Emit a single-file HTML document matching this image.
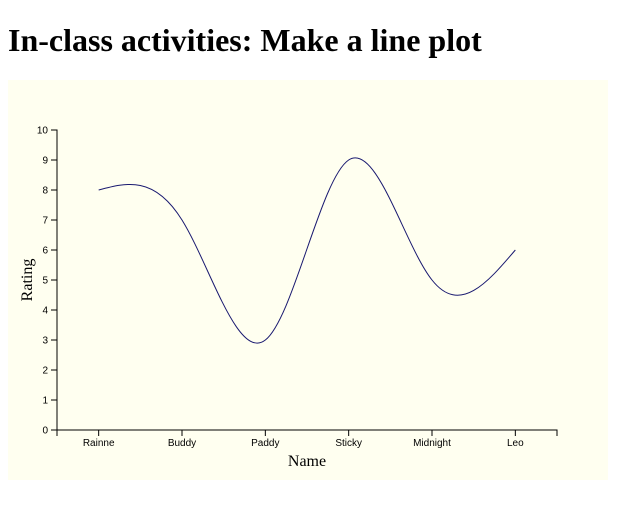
<!DOCTYPE html>
<html><head><meta charset="utf-8"><style>
body{margin:0;background:#fff;width:628px;height:505px;overflow:hidden}
h1{position:absolute;left:8px;top:21px;margin:0;font:bold 32px "Liberation Serif",serif;line-height:38px}
svg{position:absolute;left:8px;top:80px}
</style></head><body>
<h1>In-class activities: Make a line plot</h1>
<svg id="chart" width="600" height="400"></svg>
<script>
const names=["Rainne","Buddy","Paddy","Sticky","Midnight","Leo"];
const ratings=[8,7,3,9,5,6];
const yTicks=[0,1,2,3,4,5,6,7,8,9,10];
const NS="http://www.w3.org/2000/svg";
const svg=document.getElementById('chart');
function mk(t,a,p){const e=document.createElementNS(NS,t);for(const k in a)e.setAttribute(k,a[k]);(p||svg).appendChild(e);return e;}
mk('rect',{x:0,y:0,width:600,height:400,fill:'#fffff0'});
const x0=49,x1=549,step=(x1-x0)/names.length;
const xs=i=>x0+step*(i+0.5);
const ys=v=>350-v*30;
// y axis
const ya=mk('g',{});


mk('path',{d:`M43,${ys(10)}H49V${ys(0)}H43`,stroke:'#000',fill:'none'},ya);
yTicks.forEach(t=>{mk('line',{x1:43,x2:49,y1:ys(t),y2:ys(t),stroke:'#000'},ya);
const tx=mk('text',{x:40,y:ys(t)+3.5,'text-anchor':'end','font-size':'10','font-family':'Liberation Sans, sans-serif'},ya);tx.textContent=t;
});
// x axis
const xa=mk('g',{});


mk('path',{d:`M${x0},356V350H${x1}V356`,stroke:'#000',fill:'none'},xa);
names.forEach((n,i)=>{mk('line',{x1:xs(i),x2:xs(i),y1:350,y2:356,stroke:'#000'},xa);
const tx=mk('text',{x:xs(i),y:366,'text-anchor':'middle','font-size':'10','font-family':'Liberation Sans, sans-serif'},xa);tx.textContent=n;
});
const xt=mk('text',{x:299,y:386,'text-anchor':'middle','font-size':'16','font-family':'Liberation Serif, serif'});xt.textContent='Name';

const yt=mk('text',{x:0,y:0,transform:'translate(24,200) rotate(-90)','text-anchor':'middle','font-size':'16','font-family':'Liberation Serif, serif'});yt.textContent='Rating';

// natural cubic spline (d3 curveNatural)
function ctrl(x){const n=x.length-1;const a=[],b=[],r=[];let m;
a[0]=0;b[0]=2;r[0]=x[0]+2*x[1];
for(let i=1;i<n-1;++i){a[i]=1;b[i]=4;r[i]=4*x[i]+2*x[i+1];}
a[n-1]=2;b[n-1]=7;r[n-1]=8*x[n-1]+x[n];
for(let i=1;i<n;++i){m=a[i]/b[i-1];b[i]-=m;r[i]-=m*r[i-1];}
a[n-1]=r[n-1]/b[n-1];
for(let i=n-2;i>=0;--i)a[i]=(r[i]-a[i+1])/b[i];
b[n-1]=(x[n]+a[n-1])/2;
for(let i=0;i<n-1;++i)b[i]=2*x[i+1]-a[i+1];
return [a,b];}
const px=names.map((n,i)=>xs(i)),py=ratings.map(ys);
const [ax,bx]=ctrl(px),[ay,by]=ctrl(py);
let d=`M${px[0]},${py[0]}`;
for(let i=0;i<px.length-1;i++)d+=`C${ax[i]},${ay[i]} ${bx[i]},${by[i]} ${px[i+1]},${py[i+1]}`;
const line=mk('path',{d:d,fill:'none',stroke:'#191970','stroke-width':1});


</script>
</body></html>
